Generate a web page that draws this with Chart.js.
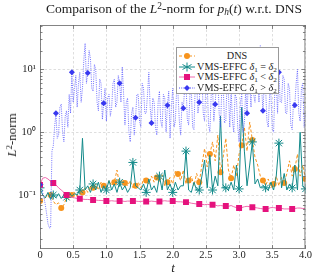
<!DOCTYPE html>
<html>
<head>
<meta charset="utf-8">
<script src="https://cdn.jsdelivr.net/npm/chart.js@4.4.0/dist/chart.umd.min.js"></script>
<style>
  html, body { margin: 0; padding: 0; background: #fff; }
  #wrap { position: relative; width: 312px; height: 275px; font-family: "Liberation Serif", "DejaVu Serif", serif; color: #222; }
  #graf { position: absolute; left: 0; top: 0; }
  .lbl { position: absolute; white-space: nowrap; }
  #titulo { left: 41px; width: 266px; top: 1px; text-align: center; font-size: 13.5px; }
  #ylab { left: 12px; top: 135px; font-size: 13px; transform: translate(-50%, -50%) rotate(-90deg); }
  #xlab { left: 173px; top: 268px; font-size: 13px; font-style: italic; transform: translate(-50%, -50%); }
  #leyenda { position: absolute; left: 176px; top: 47px; width: 101px; height: 45px; background: #fff; border: 1px solid #999; font-size: 10.2px; }
  .fila { position: absolute; left: 0; width: 101px; height: 10px; }
  .fila svg { position: absolute; left: 1px; top: 0; }
  .fila span { position: absolute; left: 19px; right: 0; text-align: center; top: -1px; line-height: 11px; white-space: nowrap; }
  sub { font-size: 70%; vertical-align: -2px; line-height: 0; }
  sup { font-size: 70%; vertical-align: 4px; line-height: 0; }
</style>
</head>
<body>
<div id="wrap">
  <canvas id="graf" width="312" height="275"></canvas>
  <div class="lbl" id="titulo">Comparison of the <i>L</i><sup>2</sup>-norm for <i>p<sub>h</sub></i>(<i>t</i>) w.r.t. DNS</div>
  <div class="lbl" id="ylab"><i>L</i><sup>2</sup>-norm</div>
  <div class="lbl" id="xlab">t</div>
  <div id="leyenda">
    <div class="fila" style="top:3px">
      <svg width="18" height="10"><line x1="1" y1="5" x2="17" y2="5" stroke="#f7941d" stroke-width="1" stroke-dasharray="3,2"/><circle cx="9" cy="5" r="3" fill="#f7941d"/></svg>
      <span>DNS</span>
    </div>
    <div class="fila" style="top:13.5px">
      <svg width="18" height="10"><line x1="1" y1="5" x2="17" y2="5" stroke="#138a8a" stroke-width="1"/><path d="M9 0.5 L9 9.5 M4.5 2.5 L13.5 7.5 M4.5 7.5 L13.5 2.5" stroke="#138a8a" stroke-width="1"/></svg>
      <span>VMS-EFFC <i>δ</i><sub>1</sub> = <i>δ</i><sub>2</sub></span>
    </div>
    <div class="fila" style="top:24px">
      <svg width="18" height="10"><line x1="1" y1="5" x2="17" y2="5" stroke="#f06aae" stroke-width="1"/><rect x="6" y="2" width="6" height="6" fill="#e5127d"/></svg>
      <span>VMS-EFFC <i>δ</i><sub>1</sub> &lt; <i>δ</i><sub>2</sub></span>
    </div>
    <div class="fila" style="top:34.5px">
      <svg width="18" height="10"><line x1="1" y1="5" x2="17" y2="5" stroke="#5252ff" stroke-width="1" stroke-dasharray="1,1.2"/><path d="M9 2 L12 5 L9 8 L6 5 Z" fill="#3838f0"/></svg>
      <span>VMS-EFFC <i>δ</i><sub>1</sub> &gt; <i>δ</i><sub>2</sub></span>
    </div>
  </div>
</div>
<script>
// tiempo (t), paso 0.04
const tiempos = [
  0, 0.04, 0.08, 0.12, 0.16, 0.2, 0.24, 0.28, 0.32, 0.36,
  0.4, 0.44, 0.48, 0.52, 0.56, 0.6, 0.64, 0.68, 0.72, 0.76,
  0.8, 0.84, 0.88, 0.92, 0.96, 1, 1.04, 1.08, 1.12, 1.16,
  1.2, 1.24, 1.28, 1.32, 1.36, 1.4, 1.44, 1.48, 1.52, 1.56,
  1.6, 1.64, 1.68, 1.72, 1.76, 1.8, 1.84, 1.88, 1.92, 1.96,
  2, 2.04, 2.08, 2.12, 2.16, 2.2, 2.24, 2.28, 2.32, 2.36,
  2.4, 2.44, 2.48, 2.52, 2.56, 2.6, 2.64, 2.68, 2.72, 2.76,
  2.8, 2.84, 2.88, 2.92, 2.96, 3, 3.04, 3.08, 3.12, 3.16,
  3.2, 3.24, 3.28, 3.32, 3.36, 3.4, 3.44, 3.48, 3.52, 3.56,
  3.6, 3.64, 3.68, 3.72, 3.76, 3.8, 3.84, 3.88, 3.92, 3.96,
  4
];

// tiempo fino (t), paso 0.02, para la serie delta1 > delta2
const tiemposFinos = [
  0, 0.02, 0.04, 0.06, 0.08, 0.1, 0.12, 0.14, 0.16, 0.18,
  0.2, 0.22, 0.24, 0.26, 0.28, 0.3, 0.32, 0.34, 0.36, 0.38,
  0.4, 0.42, 0.44, 0.46, 0.48, 0.5, 0.52, 0.54, 0.56, 0.58,
  0.6, 0.62, 0.64, 0.66, 0.68, 0.7, 0.72, 0.74, 0.76, 0.78,
  0.8, 0.82, 0.84, 0.86, 0.88, 0.9, 0.92, 0.94, 0.96, 0.98,
  1, 1.02, 1.04, 1.06, 1.08, 1.1, 1.12, 1.14, 1.16, 1.18,
  1.2, 1.22, 1.24, 1.26, 1.28, 1.3, 1.32, 1.34, 1.36, 1.38,
  1.4, 1.42, 1.44, 1.46, 1.48, 1.5, 1.52, 1.54, 1.56, 1.58,
  1.6, 1.62, 1.64, 1.66, 1.68, 1.7, 1.72, 1.74, 1.76, 1.78,
  1.8, 1.82, 1.84, 1.86, 1.88, 1.9, 1.92, 1.94, 1.96, 1.98,
  2, 2.02, 2.04, 2.06, 2.08, 2.1, 2.12, 2.14, 2.16, 2.18,
  2.2, 2.22, 2.24, 2.26, 2.28, 2.3, 2.32, 2.34, 2.36, 2.38,
  2.4, 2.42, 2.44, 2.46, 2.48, 2.5, 2.52, 2.54, 2.56, 2.58,
  2.6, 2.62, 2.64, 2.66, 2.68, 2.7, 2.72, 2.74, 2.76, 2.78,
  2.8, 2.82, 2.84, 2.86, 2.88, 2.9, 2.92, 2.94, 2.96, 2.98,
  3, 3.02, 3.04, 3.06, 3.08, 3.1, 3.12, 3.14, 3.16, 3.18,
  3.2, 3.22, 3.24, 3.26, 3.28, 3.3, 3.32, 3.34, 3.36, 3.38,
  3.4, 3.42, 3.44, 3.46, 3.48, 3.5, 3.52, 3.54, 3.56, 3.58,
  3.6, 3.62, 3.64, 3.66, 3.68, 3.7, 3.72, 3.74, 3.76, 3.78,
  3.8, 3.82, 3.84, 3.86, 3.88, 3.9, 3.92, 3.94, 3.96, 3.98,
  4
];

// DNS
const normaDNS = [
  0.08, 0.085, 0.09, 0.1, 0.1, 0.08, 0.07, 0.075, 0.062, 0.07,
  0.09, 0.085, 0.1, 0.11, 0.095, 0.12, 0.11, 0.13, 0.11, 0.14,
  0.13, 0.15, 0.12, 0.16, 0.14, 0.13, 0.17, 0.14, 0.16, 0.25,
  0.14, 0.18, 0.155, 0.14, 0.17, 0.13, 0.14, 0.16, 0.13, 0.18,
  0.17, 0.15, 0.2, 0.16, 0.19, 0.16, 0.21, 0.14, 0.16, 0.19,
  0.15, 0.24, 0.215, 0.17, 0.25, 0.15, 0.17, 0.2, 0.14, 0.22,
  0.16, 0.3, 0.55, 0.28, 0.45, 0.7, 0.35, 0.9, 0.23, 0.4,
  0.8, 0.25, 0.185, 0.3, 0.2, 0.45, 0.62, 1.2, 0.5, 1.45,
  0.75, 0.4, 0.3, 0.2, 0.17, 0.14, 0.18, 0.13, 0.15, 0.2,
  0.14, 0.19, 0.155, 0.22, 0.35, 0.2, 0.26, 0.45, 0.2, 0.3,
  0.18
];

// VMS-EFFC delta1 = delta2
const normaIgual = [
  0.13, 0.1, 0.09, 0.11, 0.085, 0.1, 0.09, 0.105, 0.088, 0.1,
  0.092, 0.11, 0.095, 0.105, 0.1, 0.12, 0.8, 0.12, 0.14, 0.11,
  0.15, 0.12, 0.16, 0.11, 0.14, 0.12, 0.17, 0.12, 0.15, 0.11,
  0.16, 0.12, 0.14, 0.11, 0.13, 0.33, 0.14, 0.13, 0.12, 0.15,
  0.11, 0.18, 0.12, 0.14, 0.11, 0.2, 0.12, 0.25, 0.12, 0.15,
  0.11, 0.16, 0.12, 0.14, 0.14, 0.5, 0.12, 0.11, 0.16, 0.12,
  0.12, 0.2, 0.36, 0.13, 0.43, 0.12, 0.2, 0.14, 1.8, 0.13,
  0.13, 0.12, 0.16, 0.12, 0.3, 0.125, 2.5, 0.5, 0.14, 0.3,
  0.7, 0.15, 0.18, 0.13, 0.14, 0.13, 0.12, 0.16, 0.12, 0.2,
  0.67, 0.13, 0.22, 0.12, 0.15, 0.13, 0.3, 0.12, 1.0, 0.14,
  0.125
];

// VMS-EFFC delta1 < delta2
const normaMenor = [
  0.145, 0.185, 0.19, 0.18, 0.165, 0.155, 0.145, 0.13, 0.12, 0.11,
  0.1, 0.095, 0.092, 0.09, 0.088, 0.087, 0.086, 0.085, 0.085, 0.084,
  0.083, 0.083, 0.082, 0.082, 0.081, 0.08, 0.08, 0.081, 0.08, 0.08,
  0.08, 0.08, 0.079, 0.08, 0.08, 0.08, 0.08, 0.079, 0.079, 0.08,
  0.079, 0.079, 0.08, 0.079, 0.078, 0.079, 0.08, 0.081, 0.08, 0.08,
  0.08, 0.079, 0.078, 0.078, 0.077, 0.077, 0.076, 0.074, 0.073, 0.072,
  0.072, 0.071, 0.07, 0.071, 0.07, 0.07, 0.069, 0.067, 0.068, 0.067,
  0.067, 0.066, 0.068, 0.065, 0.063, 0.062, 0.063, 0.065, 0.066, 0.065,
  0.064, 0.063, 0.062, 0.061, 0.06, 0.06, 0.061, 0.063, 0.063, 0.062,
  0.062, 0.061, 0.06, 0.06, 0.06, 0.06, 0.061, 0.062, 0.062, 0.061,
  0.061
];

// VMS-EFFC delta1 > delta2 (sobre tiemposFinos)
const normaMayor = [
  0.145, 0.13, 0.11, 0.09, 0.07, 0.05, 0.035, 0.03, 0.03, 0.5,
  0.6, 1.2, 2.0, 0.8, 0.9, 2.5, 2.8, 1.0, 0.7, 1.8,
  2.2, 1.2, 4, 2, 9, 3, 5, 8, 2.5, 6,
  9, 3, 5, 14, 26, 6, 8.8, 20, 15, 5,
  4.5, 12, 10, 3, 2.2, 7, 6, 1.6, 2.9, 5,
  1.5, 3.5, 4, 1.8, 2.5, 6, 7, 2.5, 3, 8,
  6, 3, 11, 4, 1.3, 3, 3.5, 1, 0.7, 2,
  2.5, 0.9, 1.7, 4, 4, 1.5, 1.2, 6, 5, 2,
  2, 4, 9, 2.5, 1.4, 3.5, 3, 1.2, 0.9, 3,
  4.5, 1.5, 1.2, 4, 3.5, 1, 2.7, 4.5, 0.8, 2.5,
  5, 1.2, 1.5, 5, 4, 1.5, 0.9, 3, 2.4, 5,
  6, 1.6, 1.3, 4, 5, 1.2, 1.1, 6, 7, 2,
  3, 8, 8, 2, 1.5, 6, 6, 1.3, 1.0, 4,
  5, 1.5, 2.8, 7, 8, 2, 1.2, 5, 6, 1.4,
  1.5, 7, 4, 1.2, 5, 1.5, 1.0, 4, 3.5, 1.2,
  0.7, 3, 4, 1, 1.4, 5, 2.0, 6, 6, 2.5,
  17, 4, 3, 8, 9, 3, 24, 5, 2.2, 6,
  5, 1.5, 1.2, 4, 4, 1.1, 1.0, 5, 6, 2,
  9, 3, 3, 8, 7, 2, 2, 6, 5, 1.3,
  1.1, 3, 2.7, 6, 10, 2, 1.5, 5, 6, 1.2,
  2
];

const yTickValores = [0.1, 1, 10];
const yTickTextos = ['10⁻¹', '10⁰', '10¹'];

const naranja = '#f7941d';
const verdeAzul = '#138a8a';
const rosa = '#e5127d';
const azul = '#3838f0';

function cadaN(total, n, desde, hasta, r) {
  const out = [];
  for (let i = 0; i < total; i++) {
    out.push((i >= desde && i <= hasta && (i - desde) % n === 0) ? r : 0);
  }
  return out;
}

function pares(xs, ys) {
  return xs.map((x, i) => ({ x: x, y: ys[i] }));
}

// marco con ticks hacia adentro y rejilla punteada
const marcoPlugin = {
  id: 'marco',
  beforeDatasetsDraw(chart) {
    const { ctx, chartArea: a, scales } = chart;
    ctx.save();
    ctx.strokeStyle = '#d6d6d6';
    ctx.lineWidth = 0.8;
    ctx.setLineDash([2.5, 2]);
    scales.x.ticks.forEach(t => {
      const x = Math.round(scales.x.getPixelForValue(t.value)) + 0.5;
      ctx.beginPath(); ctx.moveTo(x, a.top); ctx.lineTo(x, a.bottom); ctx.stroke();
    });
    yTickValores.forEach(v => {
      const y = Math.round(scales.y.getPixelForValue(v)) + 0.5;
      ctx.beginPath(); ctx.moveTo(a.left, y); ctx.lineTo(a.right, y); ctx.stroke();
    });
    ctx.restore();
  },
  afterDatasetsDraw(chart) {
    const { ctx, chartArea: a, scales } = chart;
    ctx.save();
    ctx.strokeStyle = '#666';
    ctx.lineWidth = 0.8;
    ctx.setLineDash([]);
    ctx.strokeRect(a.left + 0.5, a.top + 0.5, a.right - a.left - 1, a.bottom - a.top - 1);
    ctx.beginPath();
    scales.x.ticks.forEach(t => {
      const x = Math.round(scales.x.getPixelForValue(t.value)) + 0.5;
      ctx.moveTo(x, a.bottom); ctx.lineTo(x, a.bottom - 4);
      ctx.moveTo(x, a.top); ctx.lineTo(x, a.top + 4);
    });
    [0.01, 0.1, 1, 10].forEach(dec => {
      for (let k = 1; k <= 9; k++) {
        const v = dec * k;
        if (v < scales.y.min || v > scales.y.max) continue;
        const y = Math.round(scales.y.getPixelForValue(v)) + 0.5;
        const len = k === 1 ? 4 : 2.5;
        ctx.moveTo(a.left, y); ctx.lineTo(a.left + len, y);
        ctx.moveTo(a.right, y); ctx.lineTo(a.right - len, y);
      }
    });
    ctx.stroke();
    ctx.restore();
  }
};

new Chart(document.getElementById('graf'), {
  type: 'line',
  data: {
    datasets: [
      {
        label: 'VMS-EFFC δ1 > δ2',
        data: pares(tiemposFinos, normaMayor),
        borderColor: 'rgba(70,70,255,0.75)',
        borderWidth: 1,
        borderDash: [1, 1.2],
        pointStyle: 'rectRot',
        pointRadius: cadaN(tiemposFinos.length, 12, 0, 200, 3),
        pointBackgroundColor: azul,
        pointBorderColor: azul,
        pointBorderWidth: 0
      },
      {
        label: 'VMS-EFFC δ1 < δ2',
        data: pares(tiempos, normaMenor),
        borderColor: '#f06aae',
        borderWidth: 1,
        pointStyle: 'rect',
        pointRadius: cadaN(tiempos.length, 5, 0, 95, 4.2),
        pointBackgroundColor: rosa,
        pointBorderColor: rosa,
        pointBorderWidth: 0
      },
      {
        label: 'VMS-EFFC δ1 = δ2',
        data: pares(tiempos, normaIgual),
        borderColor: verdeAzul,
        borderWidth: 1,
        pointStyle: 'star',
        pointRadius: cadaN(tiempos.length, 5, 0, 100, 4.5),
        pointBackgroundColor: verdeAzul,
        pointBorderColor: verdeAzul,
        pointBorderWidth: 1
      },
      {
        label: 'DNS',
        data: pares(tiempos, normaDNS),
        borderColor: naranja,
        borderWidth: 1,
        borderDash: [3, 2],
        pointStyle: 'circle',
        pointRadius: cadaN(tiempos.length, 4, 0, 100, 3),
        pointBackgroundColor: naranja,
        pointBorderColor: naranja,
        pointBorderWidth: 0
      }
    ]
  },
  options: {
    responsive: false,
    animation: false,
    events: [],
    layout: { padding: { left: 0, right: 6, top: 25, bottom: 0 } },
    elements: { line: { tension: 0 }, point: { hoverRadius: 0 } },
    plugins: { legend: { display: false }, tooltip: { enabled: false } },
    scales: {
      x: {
        type: 'linear',
        min: 0,
        max: 4,
        afterFit: s => { s.height = 26; },
        grid: { display: false, drawTicks: false },
        border: { display: false },
        ticks: {
          stepSize: 0.5,
          padding: 0,
          color: '#222',
          font: { family: 'Liberation Serif', size: 10.5 }
        }
      },
      y: {
        type: 'logarithmic',
        min: 0.0138,
        max: 51,
        afterFit: s => { s.width = 40; },
        afterBuildTicks: s => { s.ticks = yTickValores.map(v => ({ value: v })); },
        grid: { display: false, drawTicks: false },
        border: { display: false },
        ticks: {
          padding: 4,
          color: '#222',
          font: { family: 'Liberation Serif', size: 10.5 },
          callback: v => yTickTextos[yTickValores.indexOf(v)]
        }
      }
    }
  },
  plugins: [marcoPlugin]
});
</script>
</body>
</html>
